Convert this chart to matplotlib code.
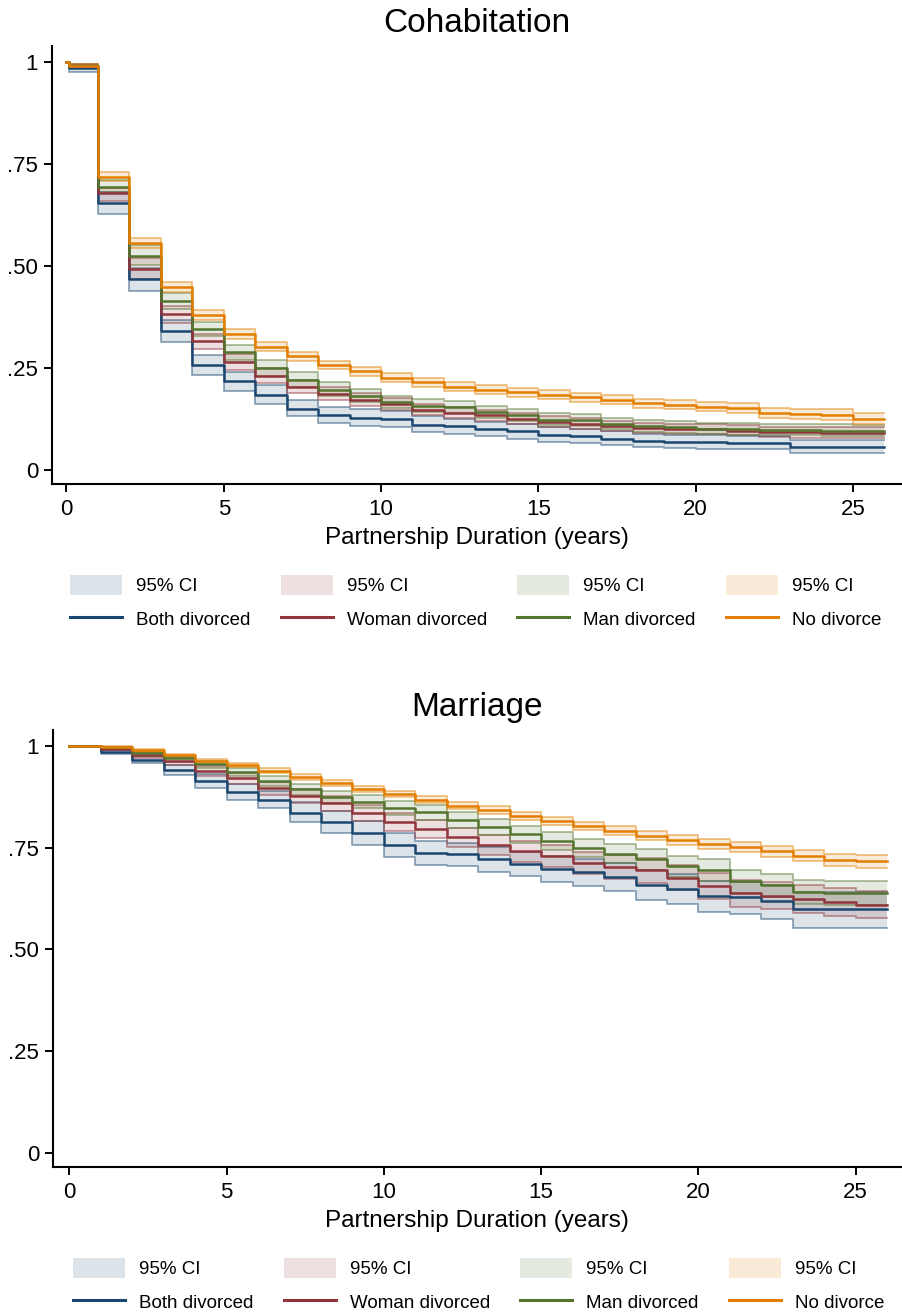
import matplotlib
matplotlib.use('Agg')  # no UI backend
import matplotlib.pyplot as plt
from matplotlib.patches import Patch
from matplotlib.lines import Line2D

plt.rcParams['font.family'] = ['Liberation Sans', 'DejaVu Sans']

# groups and colours
groups = ['Both divorced', 'Woman divorced', 'Man divorced', 'No divorce']
colors = ['#1a476f', '#90353b', '#55752f', '#e37e00']

# ---- Cohabitation: survival estimates (step values from each time point)
cohab_time = [0, 0.08] + list(range(1, 27))

cohab_both = [1.0, 0.986, 0.654, 0.467, 0.339, 0.257, 0.217, 0.184, 0.150, 0.133, 0.128, 0.125, 0.110, 0.106,
              0.100, 0.094, 0.086, 0.082, 0.076, 0.071, 0.069, 0.068, 0.066, 0.066, 0.056, 0.056, 0.056, 0.056]
cohab_both_lo = [1.0, 0.976, 0.627, 0.438, 0.313, 0.233, 0.194, 0.160, 0.131, 0.115, 0.108, 0.105, 0.093, 0.088,
                 0.082, 0.076, 0.069, 0.065, 0.060, 0.055, 0.053, 0.052, 0.050, 0.050, 0.040, 0.040, 0.040, 0.040]
cohab_both_hi = [1.0, 0.992, 0.680, 0.495, 0.368, 0.282, 0.240, 0.208, 0.171, 0.155, 0.149, 0.145, 0.131, 0.124,
                 0.118, 0.112, 0.105, 0.100, 0.094, 0.088, 0.086, 0.085, 0.083, 0.083, 0.074, 0.074, 0.074, 0.074]

cohab_woman = [1.0, 0.989, 0.678, 0.492, 0.381, 0.315, 0.264, 0.231, 0.204, 0.186, 0.172, 0.161, 0.147, 0.139,
               0.133, 0.125, 0.118, 0.113, 0.106, 0.102, 0.100, 0.099, 0.096, 0.092, 0.092, 0.091, 0.091, 0.091]
cohab_woman_lo = [1.0, 0.984, 0.660, 0.468, 0.360, 0.296, 0.245, 0.213, 0.188, 0.171, 0.157, 0.147, 0.134, 0.126,
                  0.120, 0.112, 0.105, 0.101, 0.094, 0.090, 0.088, 0.087, 0.084, 0.080, 0.079, 0.078, 0.078, 0.078]
cohab_woman_hi = [1.0, 0.994, 0.690, 0.519, 0.402, 0.334, 0.283, 0.249, 0.221, 0.202, 0.187, 0.175, 0.161, 0.153,
                  0.147, 0.139, 0.131, 0.126, 0.119, 0.115, 0.113, 0.112, 0.109, 0.105, 0.105, 0.104, 0.104, 0.104]

cohab_man = [1.0, 0.990, 0.693, 0.525, 0.414, 0.346, 0.288, 0.249, 0.221, 0.196, 0.181, 0.166, 0.157, 0.153,
             0.141, 0.133, 0.123, 0.122, 0.113, 0.106, 0.104, 0.100, 0.099, 0.098, 0.097, 0.096, 0.096, 0.096]
cohab_man_lo = [1.0, 0.985, 0.680, 0.503, 0.394, 0.327, 0.270, 0.230, 0.203, 0.180, 0.165, 0.151, 0.141, 0.138,
                0.127, 0.119, 0.109, 0.108, 0.099, 0.093, 0.091, 0.087, 0.086, 0.085, 0.084, 0.083, 0.082, 0.082]
cohab_man_hi = [1.0, 0.995, 0.710, 0.551, 0.433, 0.363, 0.306, 0.268, 0.239, 0.214, 0.198, 0.181, 0.173, 0.169,
                0.157, 0.149, 0.138, 0.137, 0.128, 0.121, 0.119, 0.115, 0.114, 0.113, 0.112, 0.111, 0.110, 0.110]

cohab_none = [1.0, 0.991, 0.718, 0.556, 0.448, 0.380, 0.333, 0.302, 0.278, 0.257, 0.241, 0.226, 0.214, 0.204,
              0.196, 0.190, 0.184, 0.178, 0.172, 0.163, 0.159, 0.155, 0.151, 0.140, 0.137, 0.135, 0.124, 0.124]
cohab_none_lo = [1.0, 0.987, 0.707, 0.544, 0.435, 0.368, 0.321, 0.292, 0.267, 0.247, 0.230, 0.216, 0.203, 0.194,
                 0.185, 0.179, 0.173, 0.167, 0.161, 0.152, 0.148, 0.144, 0.139, 0.128, 0.125, 0.122, 0.112, 0.112]
cohab_none_hi = [1.0, 0.995, 0.729, 0.568, 0.460, 0.392, 0.346, 0.313, 0.288, 0.267, 0.252, 0.237, 0.225, 0.214,
                 0.207, 0.201, 0.195, 0.189, 0.183, 0.174, 0.170, 0.166, 0.163, 0.152, 0.150, 0.148, 0.138, 0.138]

# ---- Marriage
mar_time = list(range(0, 27))

mar_both = [1.0, 0.986, 0.966, 0.941, 0.913, 0.886, 0.868, 0.835, 0.814, 0.786, 0.757, 0.737, 0.734, 0.722,
            0.710, 0.698, 0.690, 0.677, 0.659, 0.649, 0.631, 0.628, 0.618, 0.598, 0.598, 0.598, 0.598]
mar_both_lo = [1.0, 0.980, 0.957, 0.928, 0.897, 0.867, 0.847, 0.812, 0.786, 0.757, 0.726, 0.707, 0.704, 0.691,
               0.679, 0.665, 0.655, 0.643, 0.620, 0.612, 0.592, 0.588, 0.575, 0.553, 0.553, 0.553, 0.553]
mar_both_hi = [1.0, 0.991, 0.975, 0.954, 0.930, 0.906, 0.890, 0.861, 0.840, 0.816, 0.786, 0.765, 0.762, 0.752,
               0.740, 0.730, 0.723, 0.711, 0.696, 0.686, 0.669, 0.666, 0.659, 0.641, 0.641, 0.641, 0.641]

mar_woman = [1.0, 0.993, 0.977, 0.962, 0.939, 0.921, 0.896, 0.877, 0.859, 0.835, 0.814, 0.796, 0.775, 0.757,
             0.741, 0.730, 0.712, 0.702, 0.694, 0.676, 0.655, 0.638, 0.632, 0.624, 0.616, 0.610, 0.610]
mar_woman_lo = [1.0, 0.989, 0.970, 0.952, 0.927, 0.907, 0.880, 0.860, 0.840, 0.815, 0.792, 0.773, 0.751, 0.732,
                0.715, 0.703, 0.684, 0.673, 0.664, 0.645, 0.623, 0.605, 0.598, 0.590, 0.582, 0.576, 0.576]
mar_woman_hi = [1.0, 0.996, 0.983, 0.971, 0.950, 0.934, 0.911, 0.894, 0.877, 0.855, 0.835, 0.819, 0.799, 0.782,
                0.767, 0.757, 0.740, 0.731, 0.724, 0.707, 0.687, 0.671, 0.666, 0.658, 0.650, 0.644, 0.644]

mar_man = [1.0, 0.996, 0.982, 0.969, 0.955, 0.936, 0.914, 0.894, 0.875, 0.863, 0.847, 0.837, 0.818, 0.800,
           0.783, 0.767, 0.749, 0.735, 0.721, 0.704, 0.694, 0.667, 0.657, 0.641, 0.638, 0.638, 0.638]
mar_man_lo = [1.0, 0.993, 0.976, 0.961, 0.946, 0.925, 0.902, 0.880, 0.860, 0.847, 0.830, 0.819, 0.799, 0.780,
              0.762, 0.745, 0.726, 0.711, 0.696, 0.678, 0.667, 0.639, 0.628, 0.612, 0.609, 0.609, 0.609]
mar_man_hi = [1.0, 0.998, 0.987, 0.976, 0.963, 0.946, 0.926, 0.907, 0.889, 0.879, 0.864, 0.855, 0.837, 0.820,
              0.804, 0.789, 0.772, 0.759, 0.746, 0.730, 0.721, 0.695, 0.686, 0.670, 0.667, 0.667, 0.667]

mar_none = [1.0, 0.998, 0.989, 0.977, 0.963, 0.953, 0.939, 0.924, 0.908, 0.894, 0.882, 0.868, 0.853, 0.842,
            0.828, 0.816, 0.804, 0.792, 0.779, 0.769, 0.759, 0.751, 0.741, 0.730, 0.720, 0.716, 0.716]
mar_none_lo = [1.0, 0.996, 0.986, 0.973, 0.958, 0.947, 0.933, 0.917, 0.901, 0.886, 0.874, 0.860, 0.844, 0.833,
               0.819, 0.806, 0.794, 0.781, 0.768, 0.757, 0.747, 0.738, 0.728, 0.716, 0.705, 0.700, 0.700]
mar_none_hi = [1.0, 0.999, 0.992, 0.981, 0.968, 0.959, 0.945, 0.931, 0.915, 0.902, 0.890, 0.876, 0.862, 0.851,
               0.837, 0.826, 0.814, 0.803, 0.790, 0.781, 0.771, 0.764, 0.754, 0.744, 0.735, 0.731, 0.731]

yticks = [0, 0.25, 0.5, 0.75, 1]
ytick_labels = ['0', '.25', '.50', '.75', '1']
xticks = [0, 5, 10, 15, 20, 25]

W, H = 902, 1315
fig = plt.figure(figsize=(W / 100, H / 100), dpi=100)


def panel(rect, title, t, series, xlim, legend_xy):
    ax = fig.add_axes(rect)
    # confidence bands first, then the estimates on top
    for (s, lo, hi), c in zip(series, colors):
        ax.fill_between(t, lo, hi, step='post', color=c, alpha=0.15, lw=0)
        ax.step(t, lo, where='post', color=c, alpha=0.45, lw=1.4)
        ax.step(t, hi, where='post', color=c, alpha=0.45, lw=1.4)
    for (s, lo, hi), c in zip(series, colors):
        ax.step(t, s, where='post', color=c, lw=1.8)
    ax.set_xlim(*xlim)
    ax.set_ylim(-0.035, 1.039)
    ax.set_yticks(yticks)
    ax.set_yticklabels(ytick_labels)
    ax.set_xticks(xticks)
    for side in ['top', 'right']:
        ax.spines[side].set_visible(False)
    for side in ['left', 'bottom']:
        ax.spines[side].set_linewidth(1.5)
    ax.tick_params(direction='out', length=6, width=1.4, labelsize=16)
    ax.tick_params(axis='x', pad=5)
    ax.tick_params(axis='y', pad=4)
    ax.set_title(title, fontsize=24, pad=10)
    ax.set_xlabel('Partnership Duration (years)', fontsize=17.5, labelpad=5)

    handles = []
    for g, c in zip(groups, colors):
        handles.append(Patch(facecolor=c, alpha=0.15, edgecolor='none', label='95% CI'))
        handles.append(Line2D([], [], color=c, lw=2.2, label=g))
    fig.legend(handles=handles, ncol=4, loc='upper left',
               bbox_to_anchor=(legend_xy[0] / W, 1 - legend_xy[1] / H),
               frameon=False, fontsize=13.5, borderpad=0, borderaxespad=0,
               handlelength=2.77, handleheight=1.28, handletextpad=0.75,
               columnspacing=1.62, labelspacing=0.72)
    return ax


cohab_series = [(cohab_both, cohab_both_lo, cohab_both_hi),
                (cohab_woman, cohab_woman_lo, cohab_woman_hi),
                (cohab_man, cohab_man_lo, cohab_man_hi),
                (cohab_none, cohab_none_lo, cohab_none_hi)]
mar_series = [(mar_both, mar_both_lo, mar_both_hi),
              (mar_woman, mar_woman_lo, mar_woman_hi),
              (mar_man, mar_man_lo, mar_man_hi),
              (mar_none, mar_none_lo, mar_none_hi)]

panel([52 / W, (H - 484) / H, (901 - 52) / W, (484 - 46) / H], 'Cohabitation',
      cohab_time, cohab_series, (-0.46, 26.53), (70, 575))
panel([53 / W, (H - 1167) / H, (901 - 53) / W, (1167 - 730) / H], 'Marriage',
      mar_time, mar_series, (-0.52, 26.44), (73, 1258))

fig.savefig('out.png', dpi=100)
